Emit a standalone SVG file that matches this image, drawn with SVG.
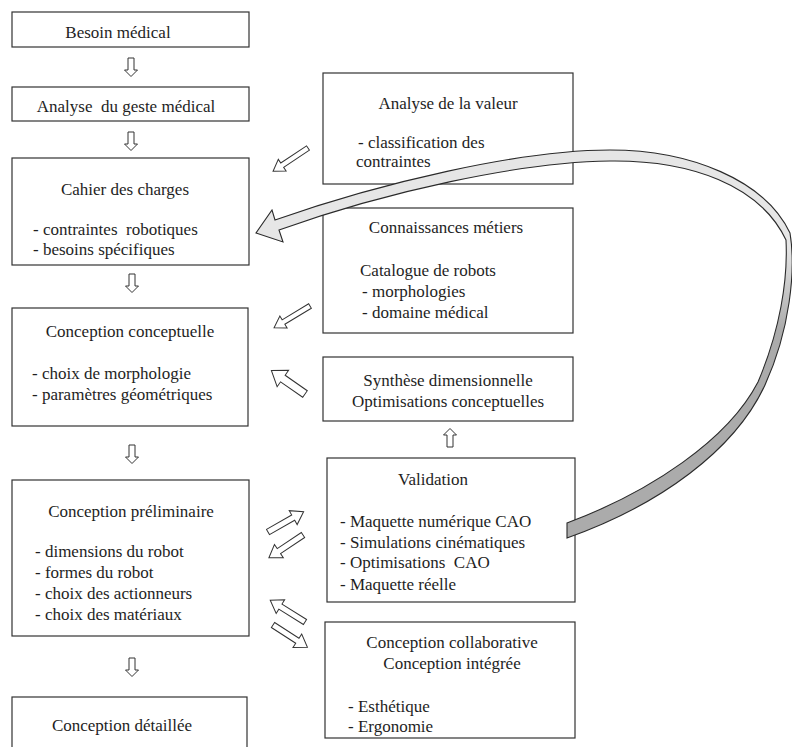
<svg xmlns="http://www.w3.org/2000/svg" width="792" height="747" viewBox="0 0 792 747">
<style>
.box{fill:#fff;stroke:#333;stroke-width:1.2}
text{font-family:Liberation Serif,Times New Roman,Tinos,serif;font-size:17px;fill:#1e1e1e}
.c{text-anchor:middle}
.p{white-space:pre}
.arr{fill:#fff;stroke:#333;stroke-width:1}
.big{stroke:#2a2a2a;stroke-width:1.1}
</style>
<defs>
<path id="down" d="M-3,0 H3 V12 H6.5 L0,18.5 L-6.5,12 H-3 Z"/>
<linearGradient id="g" gradientUnits="userSpaceOnUse" x1="0" y1="245" x2="0" y2="330">
<stop offset="0" stop-color="#e6e6e6"/><stop offset="1" stop-color="#ababab"/>
</linearGradient>
</defs>

<g id="n-besoin"><rect class="box" x="12" y="12" width="237" height="35"/><text class="c" x="118" y="38">Besoin médical</text></g>
<g id="n-analyse-geste"><rect class="box" x="12" y="87" width="237" height="34"/><text class="c p" x="126" y="112" xml:space="preserve">Analyse  du geste médical</text></g>
<g id="n-cahier"><rect class="box" x="12" y="158" width="237" height="107"/><text class="c" x="125" y="195">Cahier des charges</text><text class="p" x="33" y="235" xml:space="preserve">- contraintes  robotiques</text><text x="33" y="255">- besoins spécifiques</text></g>
<g id="n-conceptuelle"><rect class="box" x="12" y="308" width="236" height="118"/><text class="c" x="130" y="337">Conception conceptuelle</text><text x="32" y="379">- choix de morphologie</text><text x="32" y="400">- paramètres géométriques</text></g>
<g id="n-preliminaire"><rect class="box" x="12" y="480" width="237" height="156"/><text class="c" x="131" y="517">Conception préliminaire</text><text x="35" y="557">- dimensions du robot</text><text x="35" y="578">- formes du robot</text><text x="35" y="599">- choix des actionneurs</text><text x="35" y="620">- choix des matériaux</text></g>
<g id="n-detaillee"><rect class="box" x="12" y="697" width="235" height="70"/><text class="c" x="122" y="731">Conception détaillée</text></g>

<g id="n-valeur"><rect class="box" x="323" y="73" width="250" height="111"/><text class="c" x="448" y="109">Analyse de la valeur</text><text x="358" y="148">- classification des</text><text x="356" y="167">contraintes</text></g>
<g id="n-connaissances"><rect class="box" x="323" y="208" width="250" height="125"/><text class="c" x="446" y="233">Connaissances métiers</text><text x="360" y="276">Catalogue de robots</text><text x="362" y="297">- morphologies</text><text x="362" y="318">- domaine médical</text></g>
<g id="n-synthese"><rect class="box" x="323" y="357" width="250" height="64"/><text class="c" x="448" y="386">Synthèse dimensionnelle</text><text class="c" x="448" y="407">Optimisations conceptuelles</text></g>
<g id="n-validation"><rect class="box" x="327" y="458" width="248" height="144"/><text class="c" x="433" y="485">Validation</text><text x="340" y="527">- Maquette numérique CAO</text><text x="340" y="548">- Simulations cinématiques</text><text class="p" x="340" y="568" xml:space="preserve">- Optimisations  CAO</text><text x="340" y="590">- Maquette réelle</text></g>
<g id="n-collaborative"><rect class="box" x="325" y="622" width="250" height="116"/><text class="c" x="452" y="648">Conception collaborative</text><text class="c" x="452" y="669">Conception intégrée</text><text x="348" y="712">- Esthétique</text><text x="348" y="732">- Ergonomie</text></g>

<g id="connectors">
<use href="#down" class="arr" x="131" y="58"/>
<use href="#down" class="arr" x="131" y="132"/>
<use href="#down" class="arr" x="132" y="274"/>
<use href="#down" class="arr" x="132" y="445"/>
<use href="#down" class="arr" x="132" y="658"/>
<use href="#down" class="arr" transform="translate(450,447) scale(1,-1)"/>

<path class="arr" d="M0,-2.6 H31 V-7 L42,0 L31,7 V2.6 H0 Z" transform="translate(308,148) rotate(146.3)"/>
<path class="arr" d="M0,-2.6 H31 V-7 L42,0 L31,7 V2.6 H0 Z" transform="translate(310,306) rotate(148.8)"/>
<path class="arr" d="M0,-4 H27 V-10 L41,0 L27,10 V4 H0 Z" transform="translate(305,394) rotate(214.9)"/>
<path class="arr" d="M0,-3 H29 V-8 L41,0 L29,8 V3 H0 Z" transform="translate(268,532) rotate(-29.7)"/>
<path class="arr" d="M0,-3 H29 V-8 L41,0 L29,8 V3 H0 Z" transform="translate(303,535) rotate(146.3)"/>
<path class="arr" d="M0,-3 H29 V-8 L41,0 L29,8 V3 H0 Z" transform="translate(305,622) rotate(212)"/>
<path class="arr" d="M0,-3 H29 V-8 L41,0 L29,8 V3 H0 Z" transform="translate(273,625) rotate(32.9)"/>

<path class="big" fill="url(#g)" d="M275,220 C380,183 520,150 610,150 C690,150 765,180 790,233 C796,270 790,330 765,385 C735,450 660,505 567,538 L567,523 C650,492 728,440 758,382 C780,330 788,280 786,240 C760,185 690,160 610,161 C520,162 385,192 279,230 L283,242 L256,233 L272,210 Z"/>
</g>
</svg>
